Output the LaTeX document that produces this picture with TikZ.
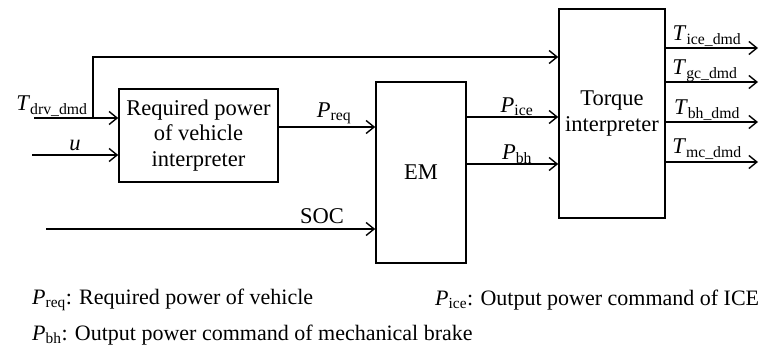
\documentclass[tikz,border=0pt]{standalone}
\usepackage{fontspec}
\setmainfont{Liberation Serif}
\usetikzlibrary{arrows.meta,calc}
\newcommand{\Vsub}[2]{\textit{#1}\textsubscript{#2}}
\begin{document}
\begin{tikzpicture}[x=1pt,y=-1pt,
  blk/.style={draw,line width=1.6pt,rectangle,inner sep=0pt,align=center,font=\fontsize{22.5}{25.5}\selectfont},
  arr/.style={line width=1.6pt,-{Straight Barb[length=8pt,width=13pt,line width=1.4pt]}},
  lbl/.style={inner sep=0pt,font=\fontsize{22.5}{26}\selectfont},
  leg/.style={inner sep=0pt,anchor=west,font=\fontsize{22}{26}\selectfont}]
\useasboundingbox (0,0) rectangle (767,358);
\node[blk,minimum width=159pt,minimum height=93pt] (rp) at (198.5,135.5) {Required power\\of vehicle\\interpreter};
\node[blk,minimum width=90pt,minimum height=181pt] (em) at (421,172.5) {EM};
\node[blk,minimum width=106pt,minimum height=209pt] (tq) at (612,113.5) {Torque\\interpreter};
\coordinate (tin) at (34,118);
\coordinate (br) at (93,118);
\coordinate (top) at (93,57);
\coordinate (uin) at (32,155);
\coordinate (socin) at (46,229);
\coordinate (oend) at (758,0);
% inputs
\draw[arr] (tin) -- (tin -| rp.west);
\draw[arr] (br) -- (top) -- (top -| tq.west);
\draw[arr] (uin) -- (uin -| rp.west);
\draw[arr] ([yshift=8.5pt]rp.east) -- ([yshift=8.5pt]rp.east -| em.west);
\draw[arr] (socin) -- (socin -| em.west);
\draw[arr] ([yshift=55.5pt]em.east) -- ([yshift=55.5pt]em.east -| tq.west);
\draw[arr] ([yshift=8.5pt]em.east) -- ([yshift=8.5pt]em.east -| tq.west);
% outputs
\draw[arr] ([yshift=65.5pt]tq.east) -- ([yshift=65.5pt]tq.east -| oend);
\draw[arr] ([yshift=31.5pt]tq.east) -- ([yshift=31.5pt]tq.east -| oend);
\draw[arr] ([yshift=-8.5pt]tq.east) -- ([yshift=-8.5pt]tq.east -| oend);
\draw[arr] ([yshift=-48.5pt]tq.east) -- ([yshift=-48.5pt]tq.east -| oend);
% labels
\node[lbl] (ltdrv) at (52,106) {\Vsub{T}{drv\_dmd}};
\node[lbl] (lu) at (75,145) {\textit{u}};
\node[lbl] (lpreq) at (334,113) {\Vsub{P}{req}};
\node[lbl] (lsoc) at (322,216) {SOC};
\node[lbl] (lpice) at (517,107) {\Vsub{P}{ice}};
\node[lbl] (lpbh) at (517,154) {\Vsub{P}{bh}};
\node[lbl] (ltice) at (707,36) {\Vsub{T}{ice\_dmd}};
\node[lbl] (ltgc) at (705,71) {\Vsub{T}{gc\_dmd}};
\node[lbl] (ltbh) at (707,110) {\Vsub{T}{bh\_dmd}};
\node[lbl] (ltmc) at (707,149) {\Vsub{T}{mc\_dmd}};
% legend
\node[leg] (lg1) at (32,300) {\Vsub{P}{req}: Required power of vehicle};
\node[leg] (lg2) at (435,300) {\Vsub{P}{ice}: Output power command of ICE};
\node[leg] (lg3) at (32,335) {\Vsub{P}{bh}: Output power command of mechanical brake};
\end{tikzpicture}
\end{document}
